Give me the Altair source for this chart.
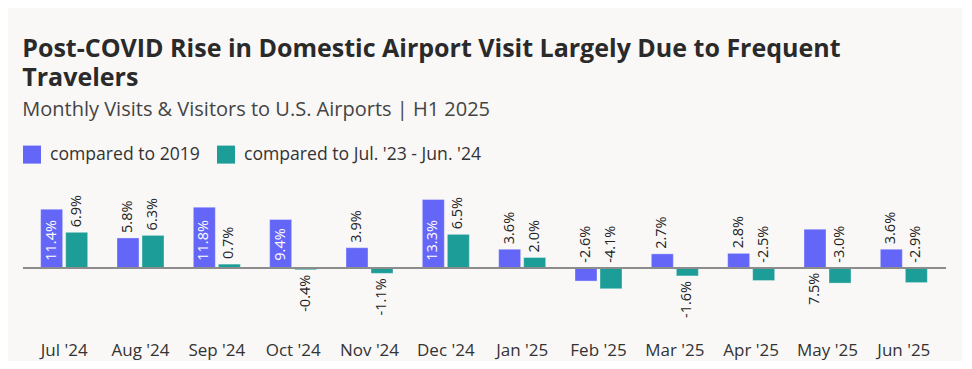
import altair as alt
import pandas as pd

months = ["Jul '24", "Aug '24", "Sep '24", "Oct '24", "Nov '24", "Dec '24",
          "Jan '25", "Feb '25", "Mar '25", "Apr '25", "May '25", "Jun '25"]
series_names = ["compared to 2019", "compared to Jul. '23 - Jun. '24"]
vs_2019 = [11.4, 5.8, 11.8, 9.4, 3.9, 13.3, 3.6, -2.6, 2.7, 2.8, 7.5, 3.6]
vs_prev = [6.9, 6.3, 0.7, -0.4, -1.1, 6.5, 2.0, -4.1, -1.6, -2.5, -3.0, -2.9]
# where each value label sits: inside the bar, above it, or below it
pos_2019 = ["inside", "above", "inside", "inside", "above", "inside",
            "above", "above", "above", "above", "below", "above"]
pos_prev = ["above", "above", "above", "below", "below", "above",
            "above", "above", "below", "above", "above", "above"]

colors = ["#6466f7", "#1d9d98"]

rows = []
for vals, poss, s in ((vs_2019, pos_2019, series_names[0]), (vs_prev, pos_prev, series_names[1])):
    for m, v, p in zip(months, vals, poss):
        if p == "inside":
            anchor = 0.0
        elif p == "above":
            anchor = max(v, 0.0)
        else:
            anchor = min(v, 0.0)
        rows.append({"month": m, "series": s, "value": v, "pos": p,
                     "anchor": anchor, "label": f"{v:.1f}%"})
df = pd.DataFrame(rows)

W = 916
H = 143.7
FONT = "Open Sans"

x_enc = alt.X("month:N", sort=months,
              scale=alt.Scale(domain=months, paddingInner=0.384, paddingOuter=0.192),
              axis=alt.Axis(title=None, labelAngle=0, domain=False, ticks=False, tickSize=0,
                            labelFont=FONT, labelFontSize=17, labelColor="#333333",
                            labelBaseline="alphabetic", labelPadding=26))
xo_enc = alt.XOffset("series:N", sort=series_names,
                     scale=alt.Scale(domain=series_names, paddingInner=0.12, paddingOuter=0))
y_scale = alt.Scale(domain=[-12, 16], nice=False, zero=False)

base = alt.Chart(df)

bars = base.mark_bar(stroke="#ffffff", strokeOpacity=0.35, strokeWidth=1).encode(
    x=x_enc,
    xOffset=xo_enc,
    y=alt.Y("value:Q", scale=y_scale, axis=None),
    y2=alt.datum(0),
    color=alt.Color("series:N", sort=series_names,
                    scale=alt.Scale(domain=series_names, range=colors),
                    legend=alt.Legend(title=None, orient="none", direction="horizontal",
                                      legendX=-3, legendY=-40,
                                      symbolType="square", symbolSize=324,
                                      symbolStrokeWidth=0, symbolOpacity=1,
                                      labelFont=FONT, labelFontSize=17.6, labelLimit=0,
                                      labelColor="#333333", labelOffset=9,
                                      columnPadding=17)),
)

rule = base.mark_rule(color="#8c8c8c", strokeWidth=1.5).encode(
    y=alt.datum(0), x=alt.value(-3), x2=alt.value(W + 4)
)

def labels(pos, align, dx, color):
    return base.transform_filter(alt.datum.pos == pos).mark_text(
        angle=270, align=align, baseline="middle", dx=dx,
        font=FONT, fontSize=14.5, color=color
    ).encode(
        x=alt.X("month:N", sort=months),
        xOffset=alt.XOffset("series:N", sort=series_names),
        y=alt.Y("anchor:Q", scale=y_scale),
        text="label:N",
    )

chart = alt.layer(
    bars, rule,
    labels("inside", "left", 7, "#ffffff"),
    labels("above", "left", 5, "#222222"),
    labels("below", "right", -5, "#222222"),
).properties(
    width=W, height=H,
    background="#f9f8f7",
    autosize=alt.AutoSizeParams(type="none"),
    padding={"left": 18, "top": 177.6, "right": 20, "bottom": 31.7},
    title=alt.TitleParams(
        text=["Post-COVID Rise in Domestic Airport Visit Largely Due to Frequent", "Travelers"],
        subtitle="Monthly Visits & Visitors to U.S. Airports | H1 2025",
        anchor="start", font=FONT, fontSize=25, fontWeight="bold", color="#2a2a2a",
        lineHeight=29, subtitleFont=FONT, subtitleFontSize=20, subtitleColor="#444444",
        subtitlePadding=9, offset=26,
    ),
).configure_view(stroke=None)

chart.save("out.html", embed_options={"renderer": "svg", "actions": False})
